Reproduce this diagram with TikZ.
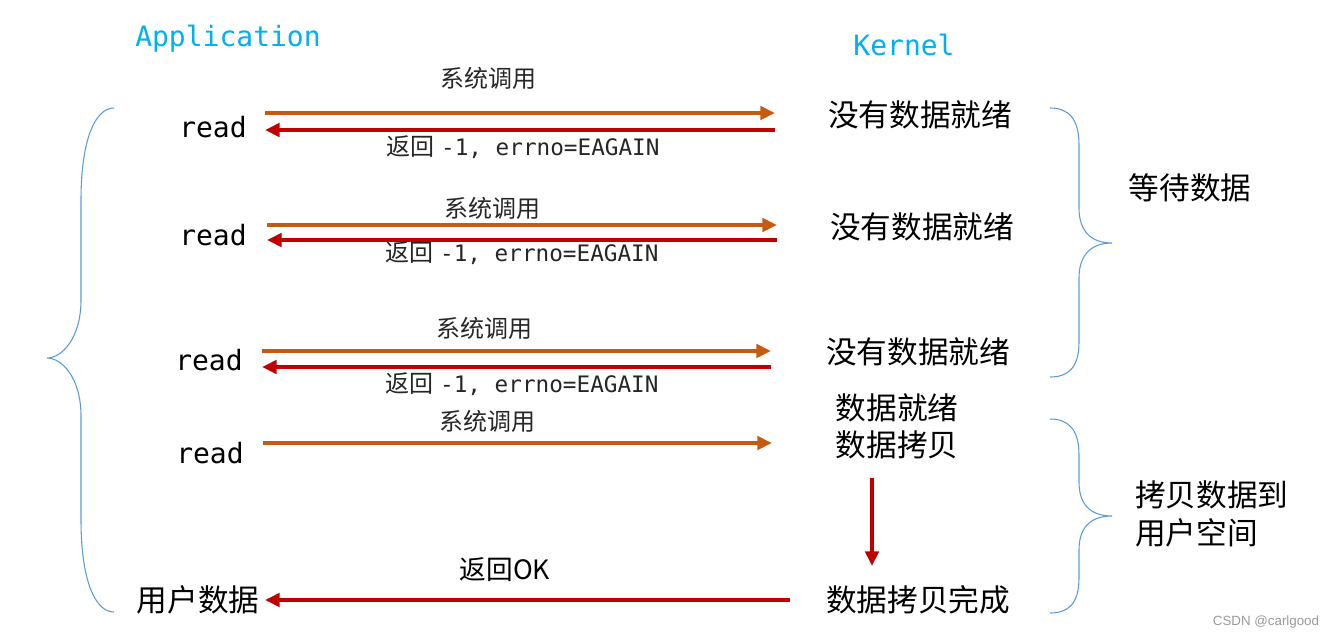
\documentclass[tikz,border=0pt]{standalone}
\usepackage{fontspec}
\setmainfont{Liberation Sans}
\newfontfamily\cjk{Noto Sans CJK SC}
\newfontfamily\mono{DejaVu Sans Mono}
\usetikzlibrary{arrows.meta}
\definecolor{callorange}{HTML}{C55A11}
\definecolor{retred}{HTML}{C00000}
\definecolor{titlecyan}{HTML}{00B0F0}
\definecolor{braceblue}{HTML}{5B9BD5}
\tikzset{
  title/.style={font=\mono\fontsize{21}{25}\selectfont, text=titlecyan, inner sep=0pt},
  readlbl/.style={font=\mono\fontsize{21}{25}\selectfont, inner sep=0pt},
  calllbl/.style={font=\cjk\fontsize{18}{21}\selectfont, text=black!85, inner sep=0pt},
  errlbl/.style={font=\fontsize{18}{21}\selectfont, text=black!85, inner sep=0pt},
  kern/.style={font=\cjk\fontsize{23}{27}\selectfont, inner sep=0pt},
  callarrow/.style={draw=callorange, line width=3pt, -{Triangle[length=11pt,width=10pt]}},
  retarrow/.style={draw=retred, line width=3pt, -{Triangle[length=11pt,width=10pt]}},
  bracepath/.style={draw=braceblue, line width=0.8pt},
}
\begin{document}
\begin{tikzpicture}[x=0.75pt,y=-0.75pt]
\useasboundingbox (0,0) rectangle (1332,640);

% titles
\node[title] (app) at (228,39) {Application};
\node[title] (kern) at (904,45) {Kernel};

% application side
\node[readlbl] (r1) at (213,127) {read};
\node[readlbl] (r2) at (213,235) {read};
\node[readlbl] (r3) at (209,360) {read};
\node[readlbl] (r4) at (210,453) {read};
\node[kern] (ud) at (198,600) {用户数据};

% kernel side
\node[kern] (k1) at (920,115) {没有数据就绪};
\node[kern] (k2) at (922,227) {没有数据就绪};
\node[kern] (k3) at (918,352) {没有数据就绪};
\node[kern] (k4a) at (897,408) {数据就绪};
\node[kern] (k4b) at (897,445) {数据拷贝};
\node[kern] (k5) at (918,600) {数据拷贝完成};

% right side
\node[kern] (wait) at (1190,188) {等待数据};
\node[kern, anchor=west] (copy1) at (1135,495) {拷贝数据到};
\node[kern, anchor=west] (copy2) at (1135,533) {用户空间};

% arrow end points
\coordinate (c1s) at (265,113); \coordinate (c1e) at (775,113);
\coordinate (e1s) at (775,130); \coordinate (e1e) at (265,130);
\coordinate (c2s) at (267,225); \coordinate (c2e) at (777,225);
\coordinate (e2s) at (777,240); \coordinate (e2e) at (267,240);
\coordinate (c3s) at (262,351); \coordinate (c3e) at (771,351);
\coordinate (e3s) at (771,367); \coordinate (e3e) at (262,367);
\coordinate (c4s) at (263,443); \coordinate (c4e) at (772,443);
\coordinate (vs) at (872,478);  \coordinate (ve) at (872,566);
\coordinate (bs) at (790,600);  \coordinate (be) at (265,600);

\draw[callarrow] (c1s) -- (c1e);
\draw[retarrow] (e1s) -- (e1e);
\draw[callarrow] (c2s) -- (c2e);
\draw[retarrow] (e2s) -- (e2e);
\draw[callarrow] (c3s) -- (c3e);
\draw[retarrow] (e3s) -- (e3e);
\draw[callarrow] (c4s) -- (c4e);
\draw[retarrow] (vs) -- (ve);
\draw[retarrow] (bs) -- (be);

% arrow labels
\node[calllbl] (l1) at (488,78) {系统调用};
\node[calllbl] (l2) at (492,208) {系统调用};
\node[calllbl] (l3) at (484,328) {系统调用};
\node[calllbl] (l4) at (487,421) {系统调用};
\node[errlbl] (m1) at (523,147) {{\cjk 返回} {\mono\fontsize{17}{20}\selectfont -1, errno=EAGAIN}};
\node[errlbl] (m2) at (522,253) {{\cjk 返回} {\mono\fontsize{17}{20}\selectfont -1, errno=EAGAIN}};
\node[errlbl] (m3) at (522,384) {{\cjk 返回} {\mono\fontsize{17}{20}\selectfont -1, errno=EAGAIN}};
\node[font=\cjk\fontsize{20}{24}\selectfont, inner sep=0pt] (ok) at (505,570) {返回OK};

% braces
\draw[bracepath] (114,108) .. controls (95,108) and (81,140) .. (81,200) -- (81,300)
  .. controls (81,338) and (62,358) .. (47,358)
  .. controls (62,358) and (81,378) .. (81,416) -- (81,520)
  .. controls (81,580) and (95,612) .. (114,612);
\draw[bracepath] (1050,108) .. controls (1068,108) and (1079,118) .. (1079,145) -- (1079,208)
  .. controls (1079,232) and (1092,243) .. (1112,243)
  .. controls (1092,243) and (1079,254) .. (1079,278) -- (1079,342)
  .. controls (1079,368) and (1068,377) .. (1050,377);
\draw[bracepath] (1050,419) .. controls (1068,419) and (1079,429) .. (1079,455) -- (1079,482)
  .. controls (1079,506) and (1092,516) .. (1112,516)
  .. controls (1092,516) and (1079,526) .. (1079,550) -- (1079,578)
  .. controls (1079,604) and (1068,613) .. (1050,613);

% credit
\node[font=\fontsize{10}{12}\selectfont, text=black!40, inner sep=0pt] (csdn) at (1266,622) {CSDN @carlgood};
\end{tikzpicture}
\end{document}
